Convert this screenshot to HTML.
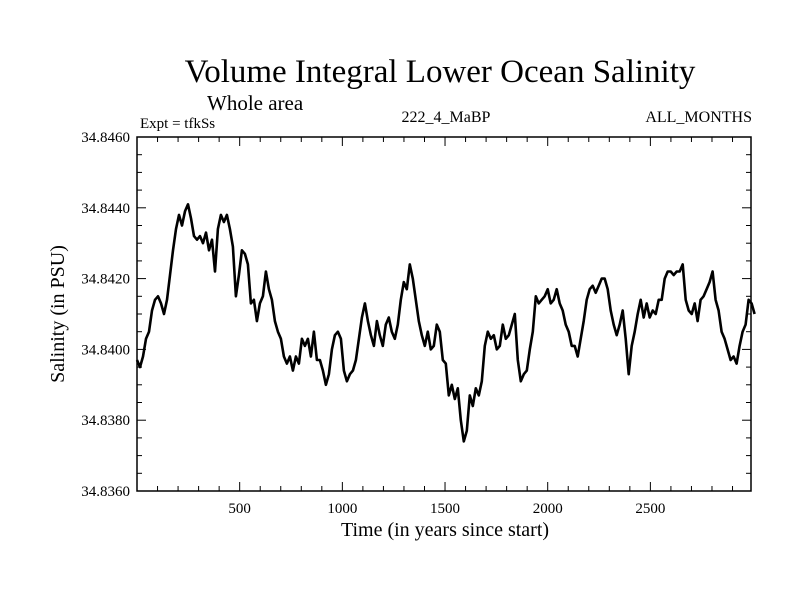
<!DOCTYPE html>
<html><head><meta charset="utf-8"><style>
body{margin:0;background:#fff}
svg text{font-family:"Liberation Serif",serif;fill:#000}
</style></head><body>
<svg id="c" width="800" height="600">
<text x="440" y="82" font-size="33" text-anchor="middle">Volume Integral Lower Ocean Salinity</text>
<text x="207" y="110" font-size="21">Whole area</text>
<text x="140" y="128" font-size="15">Expt = tfkSs</text>
<text x="446" y="122" font-size="16" text-anchor="middle">222_4_MaBP</text>
<text x="752" y="122" font-size="16" text-anchor="end">ALL_MONTHS</text>
<text x="445" y="536" font-size="20" text-anchor="middle">Time (in years since start)</text>
<text transform="translate(64,314) rotate(-90)" font-size="20" text-anchor="middle">Salinity (in PSU)</text>
<g id="axes"></g>
<rect x="137" y="137" width="614" height="354" fill="none" stroke="#000" stroke-width="1.5"/>
</svg>
<script>
const firstYear = 0;
const stepYears = 14.6;
const salinity = [34.8397,34.8395,34.8398,34.8403,34.8405,34.8411,34.8414,34.8415,34.8413,34.8410,34.8414,34.8421,34.8428,34.8434,34.8438,34.8435,34.8439,34.8441,34.8437,34.8432,34.8431,34.8432,34.8430,34.8433,34.8428,34.8431,34.8422,34.8434,34.8438,34.8436,34.8438,34.8434,34.8429,34.8415,34.8421,34.8428,34.8427,34.8424,34.8413,34.8414,34.8408,34.8413,34.8415,34.8422,34.8417,34.8414,34.8408,34.8405,34.8403,34.8398,34.8396,34.8398,34.8394,34.8398,34.8396,34.8403,34.8401,34.8403,34.8398,34.8405,34.8397,34.8397,34.8394,34.8390,34.8393,34.8400,34.8404,34.8405,34.8403,34.8394,34.8391,34.8393,34.8394,34.8397,34.8403,34.8409,34.8413,34.8408,34.8404,34.8401,34.8408,34.8404,34.8401,34.8407,34.8409,34.8405,34.8403,34.8407,34.8414,34.8419,34.8417,34.8424,34.8420,34.8414,34.8408,34.8404,34.8401,34.8405,34.8400,34.8401,34.8407,34.8405,34.8397,34.8396,34.8387,34.8390,34.8386,34.8389,34.8380,34.8374,34.8377,34.8387,34.8384,34.8389,34.8387,34.8391,34.8401,34.8405,34.8403,34.8404,34.8400,34.8401,34.8407,34.8403,34.8404,34.8407,34.8410,34.8397,34.8391,34.8393,34.8394,34.8400,34.8405,34.8415,34.8413,34.8414,34.8415,34.8417,34.8413,34.8414,34.8417,34.8413,34.8411,34.8407,34.8405,34.8401,34.8401,34.8398,34.8403,34.8408,34.8414,34.8417,34.8418,34.8416,34.8418,34.8420,34.8420,34.8417,34.8411,34.8407,34.8404,34.8407,34.8411,34.8403,34.8393,34.8401,34.8405,34.8410,34.8414,34.8409,34.8413,34.8409,34.8411,34.8410,34.8414,34.8414,34.8420,34.8422,34.8422,34.8421,34.8422,34.8422,34.8424,34.8414,34.8411,34.8410,34.8413,34.8408,34.8414,34.8415,34.8417,34.8419,34.8422,34.8414,34.8411,34.8405,34.8403,34.8400,34.8397,34.8398,34.8396,34.8401,34.8405,34.8407,34.8414,34.8413,34.8410];
const xTicks = [500,1000,1500,2000,2500];
const yTicks = ["34.8360","34.8380","34.8400","34.8420","34.8440","34.8460"];
const X0=137,X1=751,Y0=491,Y1=137,xMin=0,xMax=2990,yMin=34.836,yMax=34.846;
const sx=v=>X0+(v-xMin)/(xMax-xMin)*(X1-X0);
const sy=v=>Y0-(v-yMin)/(yMax-yMin)*(Y0-Y1);
const NS="http://www.w3.org/2000/svg";
const g=document.getElementById('axes');
function mk(t,a){const e=document.createElementNS(NS,t);for(const k in a)e.setAttribute(k,a[k]);g.appendChild(e);return e;}
for(let v=100;v<xMax;v+=100){const maj=v%500===0;const L=maj?9:5;
 const t1=mk('line',{x1:sx(v),x2:sx(v),y1:Y0,y2:Y0-L,stroke:'#000','stroke-width':1});
 
 
 const t2=mk('line',{x1:sx(v),x2:sx(v),y1:Y1,y2:Y1+L,stroke:'#000','stroke-width':1});
 
 }
xTicks.forEach(v=>{const t=mk('text',{x:sx(v),y:Y0+22,'font-size':15,'text-anchor':'middle'});t.textContent=v;
 
 });
for(let i=0;i<=20;i++){const v=yMin+i*0.0005;const maj=i%4===0;const L=maj?9:5;
 const t1=mk('line',{x1:X0,x2:X0+L,y1:sy(v),y2:sy(v),stroke:'#000','stroke-width':1});
 
 
 const t2=mk('line',{x1:X1,x2:X1-L,y1:sy(v),y2:sy(v),stroke:'#000','stroke-width':1});
 
 }
yTicks.forEach(s=>{const t=mk('text',{x:X0-7,y:sy(parseFloat(s))+5,'font-size':15,'text-anchor':'end'});t.textContent=s;
 
 });
const pts=salinity.map((v,i)=>sx(firstYear+i*stepYears).toFixed(1)+','+sy(v).toFixed(1)).join(' ');
const p=mk('polyline',{points:pts,fill:'none',stroke:'#000','stroke-width':2.6,'stroke-linejoin':'round'});


</script>
</body></html>
